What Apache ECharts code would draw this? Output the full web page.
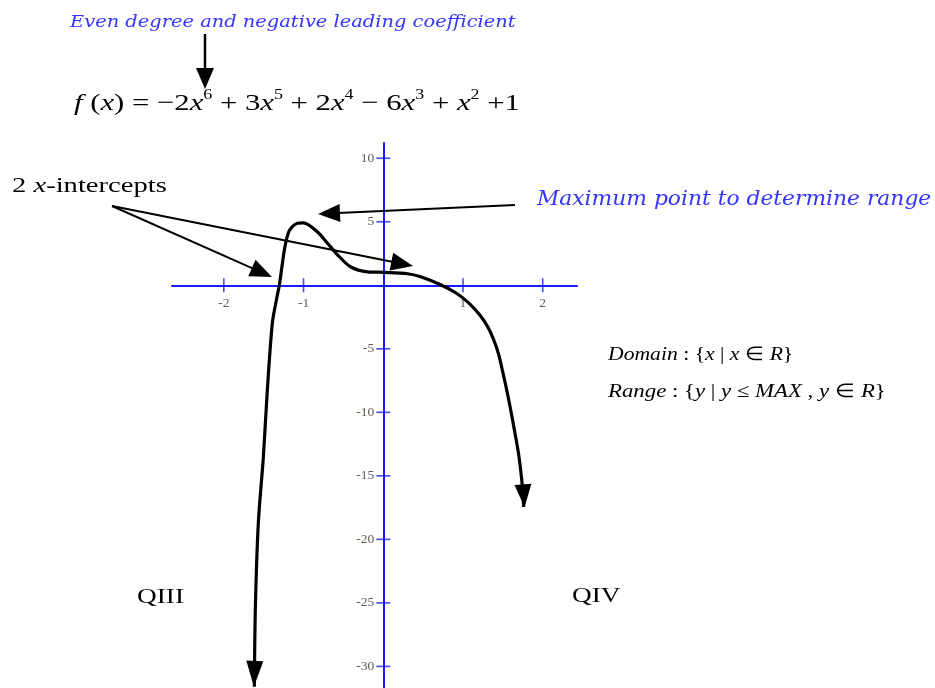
<!DOCTYPE html>
<html><head><meta charset="utf-8">
<script src="https://cdn.jsdelivr.net/npm/echarts@6/dist/echarts.min.js"></script>
<style>html,body{margin:0;padding:0;background:#fff}#c{width:935px;height:688px}</style>
</head><body><div id="c"></div>
<script>
// Hand-drawn curve (x, y in graph units)
const curveX = [-1.617,-1.604,-1.567,-1.504,-1.454,-1.391,-1.340,-1.303,-1.240,-1.190,-1.140,-1.077,-1.001,-0.825,-0.700,-0.574,-0.411,-0.197,0.004,0.305,0.469,0.720,0.908,1.071,1.209,1.310,1.385,1.448,1.498,1.548,1.598,1.649,1.699,1.737,1.762];
const curveY = [-31.61,-25.31,-18.70,-13.50,-8.23,-2.95,-1.14,0.04,2.80,4.13,4.61,4.88,4.92,4.20,3.31,2.40,1.46,1.06,1.02,0.91,0.67,0.04,-0.59,-1.38,-2.32,-3.27,-4.29,-5.46,-6.80,-8.23,-9.80,-11.54,-13.35,-15.32,-17.44];
const xTicks = [-2,-1,1,2];
const yTicks = [10,5,-5,-10,-15,-20,-25,-30];
const xTickLabels = ['-2','-1','1','2'];
const yTickLabels = ['10','5','-5','-10','-15','-20','-25','-30'];
const xRange = [-2.65, 2.43];
const yRange = [-31.7, 11.2];

const BLUE = '#1a1aff';
const TXT_BLUE = '#3434ff';
const LBL = '#3a2e22';

const chart = echarts.init(document.getElementById('c'), null, {renderer:'canvas'});

const lineData = curveX.map((x,i)=>[x, curveY[i]]);
const last = lineData.length-1;
const pts = lineData.map((p,i)=>{
  if (i===0) return {value:p, symbol:'triangle', symbolSize:[17,26], symbolRotate:178, symbolOffset:[0,-13]};
  if (i===last) return {value:p, symbol:'triangle', symbolSize:[17,23], symbolRotate:184, symbolOffset:[0,-11]};
  return {value:p, symbol:'none'};
});

function arrow(x1,y1,x2,y2,hl,hw,w){
  const dx=x2-x1, dy=y2-y1, L=Math.hypot(dx,dy), ux=dx/L, uy=dy/L;
  const bx=x2-ux*hl, by=y2-uy*hl, px=-uy, py=ux;
  return [
    {type:'line', shape:{x1,y1,x2:bx+ux*2,y2:by+uy*2}, style:{stroke:'#000',lineWidth:w||2}, z:100},
    {type:'polygon', shape:{points:[[x2,y2],[bx+px*hw/2,by+py*hw/2],[bx-px*hw/2,by-py*hw/2]]}, style:{fill:'#000'}, z:100}
  ];
}

const serif = '"Liberation Serif", "Times New Roman", serif';
const it = (fs)=>({fontStyle:'italic', fontFamily:serif, fontSize:fs});
const graphics = [].concat(
  arrow(205,34,205,89,21,18,2.5),
  arrow(112,206,272,277,22,18,2),
  arrow(112,206,413,266,22,18,2),
  arrow(515,205,318,214,22,18,2),
  [
    {type:'text', x:70, y:22, scaleX:1.11, z:100, style:{text:'Even degree and negative leading coefficient', fontFamily:'"DejaVu Serif"', fontStyle:'italic', fontSize:17.5, fill:TXT_BLUE, verticalAlign:'middle'}},
    {type:'text', x:74, y:104, scaleX:1.28, z:100, style:{
      text:'{i|f} ({i|x}) = −2{i|x}{s|6} + 3{i|x}{s|5} + 2{i|x}{s|4} − 6{i|x}{s|3} + {i|x}{s|2} +1',
      fontFamily:serif, fontSize:24, fill:'#000', verticalAlign:'middle', lineHeight:32,
      rich:{ i:Object.assign(it(24),{lineHeight:32}), s:{fontFamily:serif, fontSize:14, lineHeight:14, verticalAlign:'top'} }
    }},
    {type:'text', x:12, y:186, scaleX:1.3, z:100, style:{text:'2 {i|x}-intercepts', fontFamily:serif, fontSize:22, fill:'#000', verticalAlign:'middle', rich:{i:it(22)}}},
    {type:'text', x:537, y:200, scaleX:1.09, z:100, style:{text:'Maximum point to determine range', fontFamily:'"DejaVu Serif"', fontStyle:'italic', fontSize:20, fill:TXT_BLUE, verticalAlign:'middle'}},
    {type:'text', x:608, y:355, scaleX:1.14, z:100, style:{text:'{i|Domain} : {{i|x} | {i|x} ∈ {i|R}}', fontFamily:serif, fontSize:19, fill:'#000', verticalAlign:'middle', rich:{i:it(19)}}},
    {type:'text', x:608, y:392, scaleX:1.2, z:100, style:{text:'{i|Range} : {{i|y} | {i|y} ≤ {i|MAX} , {i|y} ∈ {i|R}}', fontFamily:serif, fontSize:19, fill:'#000', verticalAlign:'middle', rich:{i:it(19)}}},
    {type:'text', x:137, y:597, scaleX:1.3, z:100, style:{text:'QIII', fontFamily:serif, fontSize:21, fill:'#000', verticalAlign:'middle'}},
    {type:'text', x:572, y:596, scaleX:1.3, z:100, style:{text:'QIV', fontFamily:serif, fontSize:21, fill:'#000', verticalAlign:'middle'}}
  ]
);

const option = {
  backgroundColor:'#fff',
  animation:false,
  grid:{left:172, right:358, top:143, bottom:0, containLabel:false, outerBoundsMode:'none'},
  xAxis:{type:'value', min:xRange[0], max:xRange[1],
    axisLine:{show:true, onZero:true, lineStyle:{color:BLUE, width:2}},
    axisTick:{show:false}, splitLine:{show:false}, axisLabel:{show:false}
  },
  yAxis:{type:'value', min:yRange[0], max:yRange[1],
    axisLine:{show:true, onZero:true, lineStyle:{color:BLUE, width:2}},
    axisTick:{show:false}, splitLine:{show:false}, axisLabel:{show:false}
  },
  series:[
    {type:'scatter', silent:true, symbol:'rect', symbolSize:[1.6,14], itemStyle:{color:BLUE},
      data:xTicks.map((t,i)=>({value:[t,0], label:{formatter:xTickLabels[i]}})), z:2,
      label:{show:true, position:'bottom', distance:4, fontFamily:serif, fontSize:13.5, color:LBL}},
    {type:'scatter', silent:true, symbol:'rect', symbolSize:[14,1.6], itemStyle:{color:BLUE},
      data:yTicks.map((t,i)=>({value:[0,t], label:{formatter:yTickLabels[i]}})), z:2,
      label:{show:true, position:'left', distance:2, fontFamily:serif, fontSize:13.5, color:LBL}},
    {type:'line', data:pts, smooth:0.3, showSymbol:true, showAllSymbol:true, symbol:'none',
      lineStyle:{color:'#000', width:3.2}, itemStyle:{color:'#000'}, z:5, silent:true}
  ],
  graphic:graphics
};
chart.setOption(option);
</script></body></html>
